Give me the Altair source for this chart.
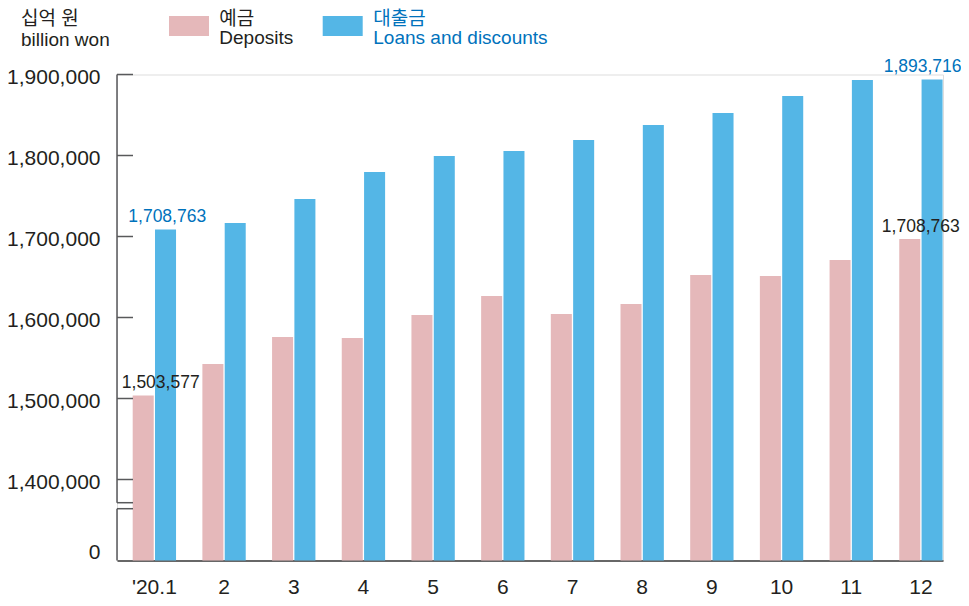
import altair as alt
import pandas as pd

# ---------------- data ----------------
months = ["'20.1", "2", "3", "4", "5", "6", "7", "8", "9", "10", "11", "12"]
deposits = [1503577, 1542600, 1575900, 1574700, 1603100, 1626500,
            1604300, 1616700, 1652500, 1651200, 1671000, 1696900]
loans = [1708763, 1716700, 1746300, 1779600, 1799400, 1805600,
         1819100, 1837700, 1852500, 1873500, 1893200, 1893716]
series_keys = ["예금", "대출금"]
series_en = ["Deposits", "Loans and discounts"]
series_colors = ["#e5b8ba", "#54b6e6"]
y_label_values = [0, 1400000, 1500000, 1600000, 1700000, 1800000, 1900000]
y_tick_values = [1400000, 1500000, 1600000, 1700000, 1800000, 1900000]
unit_ko = "십억 원"
unit_en = "billion won"
# annotations: (month, series, bar value, text)
annot_month = ["'20.1", "'20.1", "12", "12"]
annot_series = ["대출금", "예금", "예금", "대출금"]
annot_value = [loans[0], deposits[0], deposits[11], loans[11]]
annot_text = ["1,708,763", "1,503,577", "1,708,763", "1,893,716"]

# ---------------- styles ----------------
FONT = "Liberation Sans"
KFONT = "Liberation Sans, Noto Sans CJK KR"
DARK = "#231f20"
BLUE_TXT = "#0072bc"
AXIS_GRAY = "#58595b"
W, H = 826, 486

rows = []
for i, m in enumerate(months):
    rows.append({"month": m, "series": series_keys[0], "value": deposits[i]})
    rows.append({"month": m, "series": series_keys[1], "value": loans[i]})
df = pd.DataFrame(rows)

xscale = alt.Scale(paddingInner=0.378, paddingOuter=0.1155, align=0.975)
xoscale = alt.Scale(paddingInner=0.058, paddingOuter=0)
yscale = alt.Scale(domain=[0, 1400000, 1900000], range=[H, 405, 0], zero=False, nice=False)

xaxis = alt.Axis(title=None, labelAngle=0, labelFontSize=21, labelFont=FONT, labelColor=DARK,
                 labelPadding=16, ticks=False, domainColor="#3a3a3a", domainWidth=1.5, grid=False)
yaxis = alt.Axis(title=None, values=y_label_values, format=",d", ticks=False, domain=False, grid=False,
                 labelFontSize=21, labelFont=FONT, labelColor=DARK, labelPadding=17, labelFlush=False,
                 labelOverlap=False,
                 labelOffset={"condition": {"test": "datum.value == 0", "value": -7.7}, "value": 3})

x_enc = alt.X("month:N", sort=months, scale=xscale, axis=xaxis)
xo_enc = alt.XOffset("series:N", sort=series_keys, scale=xoscale)
y_enc = alt.Y("value:Q", scale=yscale, axis=yaxis)

bars = alt.Chart(df).mark_bar().encode(
    x=x_enc, xOffset=xo_enc, y=y_enc,
    color=alt.Color("series:N", sort=series_keys,
                    scale=alt.Scale(domain=series_keys, range=series_colors), legend=None),
)

ticks = alt.Chart(pd.DataFrame({"value": y_tick_values})).mark_rule(
    color=AXIS_GRAY, strokeWidth=1.5).encode(y=y_enc, x=alt.value(0), x2=alt.value(16))

one = pd.DataFrame({"a": [0]})


def rule(x, x2, y, y2):
    return alt.Chart(one).mark_rule(color=AXIS_GRAY, strokeWidth=1.5).encode(
        x=alt.value(x), x2=alt.value(x2), y=alt.value(y), y2=alt.value(y2))


axis_parts = [
    rule(0, 0, 0, 428.2),
    rule(0, 16, 428.2, 428.2),
    rule(0, 0, 434.2, H),
    rule(0, 16, 434.2, 434.2),
]


def value_label(i, color, dx):
    d = pd.DataFrame({"month": [annot_month[i]], "series": [annot_series[i]],
                      "value": [annot_value[i]], "label": [annot_text[i]]})
    return alt.Chart(d).mark_text(dx=dx, dy=-7.3, baseline="alphabetic", align="center",
                                  fontSize=17.5, font=FONT, color=color).encode(
        x=x_enc, xOffset=xo_enc, y=y_enc, text="label:N")


labels = [
    value_label(0, BLUE_TXT, 1.7),
    value_label(1, DARK, 17.5),
    value_label(2, DARK, 11),
    value_label(3, BLUE_TXT, -9.5),
]


def txt(s, x, y, color, font, size=19):
    return alt.Chart(one).mark_text(text=s, align="left", baseline="alphabetic", font=font,
                                    fontSize=size, color=color).encode(
        x=alt.value(x), y=alt.value(y))


def swatch(x, y, color):
    return alt.Chart(one).mark_rect(color=color).encode(
        x=alt.value(x), x2=alt.value(x + 40), y=alt.value(y), y2=alt.value(y + 20))


legend = [
    txt(unit_ko, -96, -49.5, DARK, KFONT),
    txt(unit_en, -96, -28.8, DARK, FONT),
    swatch(52, -58.5, series_colors[0]),
    txt(series_keys[0], 102.3, -49.5, DARK, KFONT),
    txt(series_en[0], 102.3, -30.2, DARK, FONT),
    swatch(205.7, -58.5, series_colors[1]),
    txt(series_keys[1], 256.3, -49.5, BLUE_TXT, KFONT),
    txt(series_en[1], 256.3, -30.2, BLUE_TXT, FONT),
]

chart = alt.layer(bars, ticks, *axis_parts, *labels, *legend).properties(
    width=W, height=H,
    autosize=alt.AutoSizeParams(type="none"),
    padding={"left": 109, "top": 66.5, "right": 18, "bottom": 37.5},
).configure_view(stroke=None).configure(background="white")

chart.save("out.html", embed_options={"renderer": "svg", "actions": False})
